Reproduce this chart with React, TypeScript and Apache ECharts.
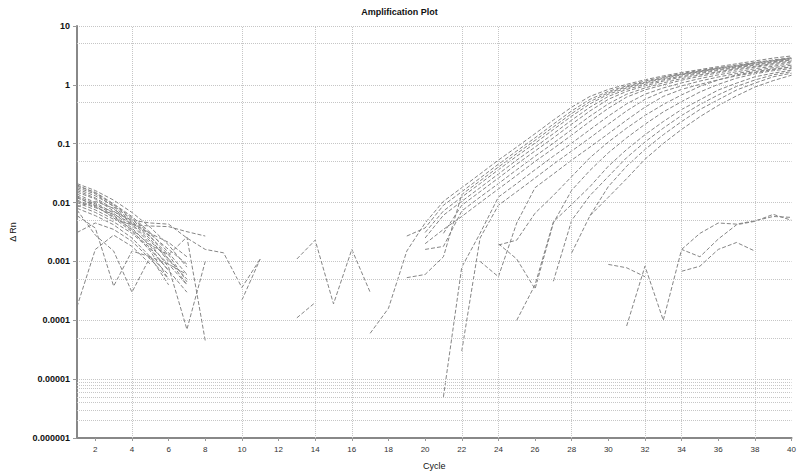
import React, { useEffect, useRef } from "react";
import * as echarts from "echarts";

const _ = null;

const CYCLES = [
  "1", "2", "3", "4", "5", "6", "7", "8", "9", "10",
  "11", "12", "13", "14", "15", "16", "17", "18", "19", "20",
  "21", "22", "23", "24", "25", "26", "27", "28", "29", "30",
  "31", "32", "33", "34", "35", "36", "37", "38", "39", "40",
];
const Y_TICK_LABELS = ["0.000001", "0.00001", "0.0001", "0.001", "0.01", "0.1", "1", "10"];
const V_GRID_CYCLES = ["4", "10", "14", "16", "22", "24", "28", "32", "34", "38"];
const H_MINOR_GRID = [5e-6, 5e-5, 5e-4, 5e-3, 5e-2, 0.5, 5, 2e-6, 3e-6, 4e-6, 6e-6, 7e-6, 8e-6, 9e-6];

const S01 = [0.021, 0.016, 0.011, 0.0068, 0.0038, 0.0019, 0.0008, _, _, _,
  _, _, _, _, _, _, 0.00006, 0.00016, 0.0015, 0.0045,
  0.0105, 0.0179, 0.0306, 0.0527, 0.0877, 0.148, 0.252, 0.418, 0.637, 0.837,
  1.02, 1.22, 1.42, 1.62, 1.82, 2.04, 2.28, 2.55, 2.85, 3.1];
const S02 = [0.020, 0.0145, 0.0092, 0.0055, 0.0029, 0.0016, 0.0009, _, _, _,
  _, _, 0.0011, 0.0023, 0.00019, 0.0016, 0.0003, _, 0.0027, 0.0037,
  0.0090, 0.0153, 0.0261, 0.0449, 0.0752, 0.126, 0.215, 0.361, 0.568, 0.776,
  0.961, 1.16, 1.36, 1.56, 1.76, 1.96, 2.16, 2.40, 2.65, 2.90];
const S03 = [0.019, 0.015, 0.0095, 0.0058, 0.0031, 0.0014, 0.0006, _, _, _,
  _, _, _, _, _, _, _, _, 0.00053, 0.0006,
  0.0012, 0.0137, 0.0234, 0.0402, 0.0679, 0.114, 0.193, 0.326, 0.520, 0.733,
  0.924, 1.11, 1.32, 1.52, 1.72, 1.92, 2.12, 2.35, 2.59, 2.85];
const S04 = [0.018, 0.014, 0.0085, 0.0048, 0.0026, 0.0013, 0.00045, _, _, _,
  _, _, 0.00011, 0.0002, _, _, _, _, _, 0.0031,
  0.0072, 0.0124, 0.0210, 0.0361, 0.0614, 0.102, 0.174, 0.294, 0.476, 0.693,
  0.887, 1.08, 1.28, 1.48, 1.67, 1.88, 2.07, 2.30, 2.55, 2.80];
const S05 = [0.017, 0.013, 0.0088, 0.0052, 0.0027, 0.0011, 0.0004, _, _, _,
  _, _, _, _, _, _, _, _, _, 0.0025,
  0.0061, 0.0105, 0.0179, 0.0306, 0.0527, 0.0877, 0.148, 0.252, 0.418, 0.637,
  0.837, 1.02, 1.22, 1.42, 1.62, 1.82, 2.02, 2.22, 2.47, 2.72];
const S06 = [0.016, 0.012, 0.0078, 0.0046, 0.0024, 0.0010, _, _, _, 0.00022,
  0.0011, _, _, _, _, _, _, _, _, _,
  0.003, 0.0090, 0.0153, 0.0261, 0.0449, 0.0752, 0.126, 0.215, 0.361, 0.568,
  0.776, 0.961, 1.16, 1.36, 1.56, 1.76, 1.96, 2.16, 2.40, 2.65];
const S07 = [0.015, 0.0115, 0.0072, 0.0041, 0.0020, 0.0008, 0.00007, 0.001, _, _,
  _, _, _, _, _, _, _, _, _, 0.0016,
  0.0018, 0.0072, 0.0124, 0.0210, 0.0361, 0.0614, 0.102, 0.174, 0.294, 0.476,
  0.693, 0.887, 1.08, 1.28, 1.48, 1.67, 1.88, 2.07, 2.30, 2.55];
const S08 = [0.014, 0.010, 0.0066, 0.0037, 0.0018, 0.0009, 0.0004, _, _, _,
  _, _, _, _, _, _, _, _, _, 0.002,
  0.0035, 0.0058, 0.010, 0.017, 0.029, 0.050, 0.083, 0.14, 0.24, 0.40,
  0.62, 0.82, 1.0, 1.2, 1.4, 1.6, 1.8, 2.0, 2.2, 2.45];
const S09 = [0.013, 0.0095, 0.0061, 0.0034, 0.0015, 0.0005, _, _, _, _,
  _, _, _, _, _, _, _, _, _, _,
  0.000005, 0.0008, 0.003, 0.0124, 0.0210, 0.0361, 0.0614, 0.102, 0.174, 0.294,
  0.476, 0.693, 0.887, 1.08, 1.28, 1.48, 1.67, 1.88, 2.07, 2.30];
const S10 = [0.0125, 0.0088, 0.0055, 0.0032, 0.0017, 0.0007, 0.0003, _, _, _,
  _, _, _, _, _, _, _, _, _, _,
  _, 0.00003, 0.0025, 0.0090, 0.0153, 0.0261, 0.0449, 0.0752, 0.126, 0.215,
  0.361, 0.568, 0.776, 0.961, 1.16, 1.36, 1.56, 1.76, 1.96, 2.16];
const S11 = [0.0105, 0.0082, 0.0063, 0.0044, 0.0030, 0.0021, 0.0012, _, _, _,
  _, _, _, _, _, _, _, _, _, _,
  _, _, 0.001, 0.00055, 0.0045, 0.0179, 0.0306, 0.0527, 0.0877, 0.148,
  0.252, 0.418, 0.637, 0.837, 1.02, 1.22, 1.42, 1.62, 1.82, 2.02];
const S12 = [0.012, 0.009, 0.007, 0.005, 0.0045, 0.0043, 0.0025, 0.0016, 0.0014, 0.00036,
  0.0011, _, _, _, _, _, _, _, _, _,
  _, _, _, 0.0019, 0.0023, 0.0066, 0.0132, 0.0277, 0.058, 0.107,
  0.184, 0.302, 0.464, 0.675, 0.942, 1.21, 1.48, 1.68, 1.86, 2.01];
const S13 = [0.011, 0.0085, 0.0058, 0.0035, 0.0019, 0.0013, 0.0026, 0.000045, _, _,
  _, _, _, _, _, _, _, _, _, _,
  _, _, _, 0.002, 0.0011, 0.00034, 0.0045, 0.0162, 0.0353, 0.0701,
  0.126, 0.214, 0.347, 0.519, 0.757, 1.02, 1.30, 1.54, 1.74, 1.90];
const S14 = [0.010, 0.0075, 0.0052, 0.0042, 0.0040, 0.0039, 0.0032, 0.0027, _, _,
  _, _, _, _, _, _, _, _, _, _,
  _, _, _, _, 0.0001, 0.0004, 0.0047, 0.0093, 0.0187, 0.0415,
  0.0797, 0.142, 0.238, 0.382, 0.558, 0.817, 1.07, 1.37, 1.58, 1.78];
const S15 = [0.009, 0.0068, 0.0047, 0.0030, 0.0016, 0.0007, _, _, _, _,
  _, _, _, _, _, _, _, _, _, _,
  _, _, _, _, _, _, 0.00046, 0.005, 0.0132, 0.0277,
  0.058, 0.107, 0.184, 0.302, 0.464, 0.675, 0.942, 1.21, 1.48, 1.68];
const S16 = [0.0085, 0.0105, 0.0080, 0.0043, 0.0022, 0.0011, 0.0005, _, _, _,
  _, _, _, _, _, _, _, _, _, _,
  _, _, _, _, _, _, _, 0.0014, 0.006, 0.0187,
  0.0415, 0.0797, 0.142, 0.238, 0.382, 0.558, 0.817, 1.07, 1.37, 1.58];
const S17 = [0.008, 0.006, 0.0042, 0.0025, 0.0012, 0.0004, _, _, _, _,
  _, _, _, _, _, _, _, _, _, _,
  _, _, _, _, _, _, _, _, 0.006, 0.0123,
  0.0255, 0.0545, 0.101, 0.175, 0.288, 0.447, 0.65, 0.918, 1.18, 1.46];
const S18 = [0.0031, 0.0045, 0.0035, 0.0022, 0.0011, 0.0005, _, _, _, _,
  _, _, _, _, _, _, _, _, _, _,
  _, _, _, _, _, _, _, _, _, 0.00089,
  0.00078, 0.00055, _, _, _, _, _, _, _, _];
const S19 = [0.00017, 0.0016, 0.0028, 0.0018, 0.0009, _, _, _, _, _,
  _, _, _, _, _, _, _, _, _, _,
  _, _, _, _, _, _, _, _, _, _,
  0.00008, 0.00083, 0.0001, 0.0016, 0.0012, 0.0024, 0.0042, 0.0048, 0.0063, 0.005];
const S20 = [0.006, 0.0037, 0.00038, 0.0015, 0.0012, 0.0006, _, _, _, _,
  _, _, _, _, _, _, _, _, _, _,
  _, _, _, _, _, _, _, _, _, _,
  _, _, _, 0.0016, 0.003, 0.0045, 0.0043, 0.0049, 0.0058, 0.0056];
const S21 = [0.0075, 0.0028, 0.0015, 0.0003, 0.0012, 0.0009, 0.0006, _, _, _,
  _, _, _, _, _, _, _, _, _, _,
  _, _, _, _, _, _, _, _, _, _,
  _, _, _, 0.00068, 0.00083, 0.0016, 0.0021, 0.0015, _, _];

const SAMPLES = [S01, S02, S03, S04, S05, S06, S07, S08, S09, S10, S11, S12, S13, S14, S15, S16, S17, S18, S19, S20, S21];

const FONT = "'Liberation Sans', Arial, sans-serif";

export default function App() {
  const ref = useRef<HTMLDivElement>(null);
  useEffect(() => {
    if (!ref.current) return;
    const chart = echarts.init(ref.current, undefined, { renderer: "svg" });
    const lineSeries = SAMPLES.map((d, i) => ({
      type: "line",
      name: "S" + (i + 1),
      data: d,
      showSymbol: false,
      symbol: "none",
      connectNulls: false,
      silent: true,
      z: 3,
      lineStyle: { color: "#858585", width: 1, type: [4, 2] },
    }));
    chart.setOption({
      animation: false,
      backgroundColor: "#ffffff",
      title: {
        text: "Amplification Plot",
        left: "center",
        top: 2,
        textStyle: { fontSize: 9, fontWeight: "bold", color: "#111", fontFamily: FONT },
      },
      grid: { left: 77, right: -4, top: 26, bottom: 35, containLabel: false },
      xAxis: {
        type: "category",
        data: CYCLES,
        boundaryGap: false,
        name: "Cycle",
        nameLocation: "middle",
        nameGap: 23,
        nameTextStyle: { fontSize: 9, color: "#111", fontFamily: FONT },
        axisLine: { lineStyle: { color: "#888", width: 2 } },
        axisTick: {
          show: true,
          length: 3,
          interval: (i: number) => i % 2 === 1,
          lineStyle: { color: "#999" },
        },
        axisLabel: {
          interval: (i: number) => i % 2 === 1,
          fontSize: 8,
          color: "#333",
          margin: 7,
          fontFamily: FONT,
        },
        splitLine: { show: false },
      },
      yAxis: {
        type: "log",
        logBase: 10,
        min: 0.000001,
        max: 10,
        name: "Δ Rn",
        nameLocation: "middle",
        nameGap: 60,
        nameRotate: 90,
        nameTextStyle: { fontSize: 9, color: "#111", fontFamily: FONT },
        axisLine: { show: true, lineStyle: { color: "#888", width: 2 } },
        axisTick: { show: true, length: 4, lineStyle: { color: "#999" } },
        axisLabel: {
          fontSize: 9,
          fontWeight: "bold",
          color: "#111",
          margin: 7,
          fontFamily: FONT,
          formatter: (v: number) => {
            const k = Math.round(Math.log10(v)) + 6;
            return Y_TICK_LABELS[k] ?? "";
          },
        },
        splitLine: { show: true, lineStyle: { color: "#c6c6c6", type: "dotted", width: 1 } },
      },
      series: [
        {
          type: "line",
          name: "grid",
          data: S01,
          showSymbol: false,
          symbol: "none",
          silent: true,
          z: 1,
          lineStyle: { opacity: 0, width: 0 },
          markLine: {
            silent: true,
            precision: 10,
            symbol: ["none", "none"],
            label: { show: false },
            animation: false,
            lineStyle: { color: "#c6c6c6", type: "dotted", width: 1 },
            data: [
              ...H_MINOR_GRID.map((v) => ({ yAxis: v })),
              ...V_GRID_CYCLES.map((c) => ({ xAxis: c })),
            ],
          },
        },
        ...lineSeries,
      ],
    });
    return () => chart.dispose();
  }, []);
  return (
    <div
      ref={ref}
      style={{ position: "fixed", left: 0, top: 0, width: 799, height: 475, background: "#fff" }}
    />
  );
}
